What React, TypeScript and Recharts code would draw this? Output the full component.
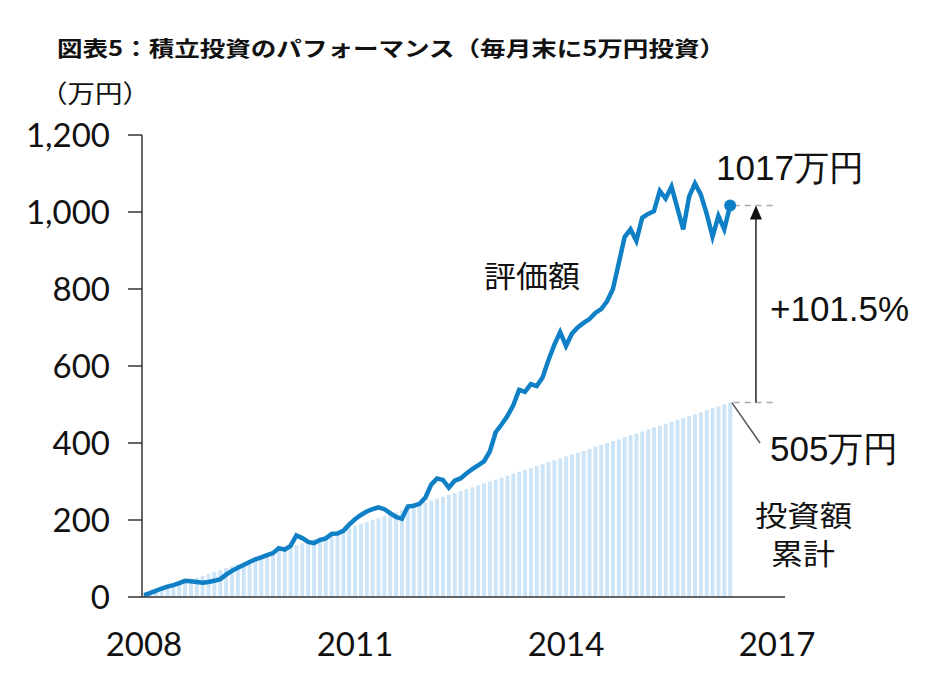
import { ComposedChart, Bar, Line, XAxis, YAxis, ReferenceLine, ReferenceDot } from 'recharts';

// 投資額累計（万円）: 毎月末に5万円ずつ
const invested = [
  5, 10, 15, 20, 25, 30, 35, 40, 45, 50,
  55, 60, 65, 70, 75, 80, 85, 90, 95, 100,
  105, 110, 115, 120, 125, 130, 135, 140, 145, 150,
  155, 160, 165, 170, 175, 180, 185, 190, 195, 200,
  205, 210, 215, 220, 225, 230, 235, 240, 245, 250,
  255, 260, 265, 270, 275, 280, 285, 290, 295, 300,
  305, 310, 315, 320, 325, 330, 335, 340, 345, 350,
  355, 360, 365, 370, 375, 380, 385, 390, 395, 400,
  405, 410, 415, 420, 425, 430, 435, 440, 445, 450,
  455, 460, 465, 470, 475, 480, 485, 490, 495, 500,
  505,
];

// 評価額（万円）
const valuation = [
  5, 10, 16, 22, 27, 31, 36, 42, 41, 39,
  37, 39, 42, 46, 58, 68, 76, 83, 91, 98,
  103, 109, 114, 127, 123, 133, 160, 153, 143, 140,
  148, 152, 164, 165, 172, 188, 202, 213, 222, 228,
  233, 228, 218, 208, 203, 235, 237, 242, 258, 292,
  308, 304, 284, 302, 308, 321, 332, 342, 352, 378,
  428, 448, 470, 498, 538, 533, 553, 548, 570, 615,
  655, 688, 652, 684, 700, 712, 722, 738, 748, 768,
  800, 867, 935, 955, 925, 985, 995, 1002, 1055, 1035,
  1066, 1010, 955, 1040, 1074, 1045, 995, 936, 990, 955,
  1017,
];

const yearTicks = [0, 36, 72, 108];
const yearLabels = ['2008', '2011', '2014', '2017'];
const valueTicks = [0, 200, 400, 600, 800, 1000, 1200];

const lastMonth = 100;
const finalValue = 1017;
const finalInvested = 505;
const gainLabel = '+101.5%';

const data = valuation.map((v, i) => ({ m: i, value: v, invested: invested[i] }));

const LINE_BLUE = '#0f80c6';
const BAR_BLUE = '#cde5f7';
const AXIS = '#333';
const JP = '"Noto Sans CJK JP", sans-serif';
const NUM = '"Liberation Sans", Arial, sans-serif';

// 上向き矢印（評価額と投資額の差）
const UpArrow = (props: any) => {
  const { x1, y1, x2, y2 } = props;
  const top = Math.min(y1, y2);
  const bottom = Math.max(y1, y2);
  return (
    <g>
      <line x1={x1} y1={bottom} x2={x2} y2={top + 12} stroke="#222" strokeWidth={1.5} />
      <polygon points={`${x2},${top} ${x2 - 6},${top + 14} ${x2 + 6},${top + 14}`} fill="#111" />
    </g>
  );
};

export default function App() {
  return (
    <div style={{ position: 'absolute', left: 0, top: 0, width: 935, height: 698, background: '#fff' }}>
      <ComposedChart
        width={935}
        height={698}
        data={data}
        margin={{ top: 135, right: 150, bottom: 41, left: 0 }}
      >
        <XAxis
          type="number"
          dataKey="m"
          domain={[-0.34, 109.36]}
          ticks={yearTicks}
          interval={0}
          tickFormatter={(v) => yearLabels[yearTicks.indexOf(v)]}
          tickLine={false}
          axisLine={{ stroke: AXIS, strokeWidth: 1.5 }}
          tick={{ fontSize: 33, fontFamily: 'Lato', fill: '#111' }}
          tickMargin={30}
          height={60}
        />
        <YAxis
          type="number"
          domain={[0, 1200]}
          ticks={valueTicks}
          interval={0}
          width={142}
          tickSize={14}
          tickMargin={18}
          tickLine={{ stroke: AXIS, strokeWidth: 1.5 }}
          axisLine={{ stroke: AXIS, strokeWidth: 1.5 }}
          tickFormatter={(v) => v.toLocaleString('en-US')}
          tick={{ fontSize: 33, fontFamily: 'Lato', fill: '#111' }}
        />
        <Bar dataKey="invested" fill={BAR_BLUE} barSize={4} isAnimationActive={false} />
        <Line
          type="linear"
          dataKey="value"
          stroke={LINE_BLUE}
          strokeWidth={4.5}
          dot={false}
          activeDot={false}
          isAnimationActive={false}
        />
        <ReferenceDot x={lastMonth} y={finalValue} r={6} fill={LINE_BLUE} stroke="none" />
        <ReferenceLine
          segment={[{ x: 100.6, y: finalValue }, { x: 107.3, y: finalValue }]}
          stroke="#aaa"
          strokeWidth={1.5}
          strokeDasharray="6 5"
        />
        <ReferenceLine
          segment={[{ x: 100.6, y: finalInvested }, { x: 107.3, y: finalInvested }]}
          stroke="#aaa"
          strokeWidth={1.5}
          strokeDasharray="6 5"
        />
        <ReferenceLine
          segment={[{ x: 104.4, y: finalInvested }, { x: 104.4, y: finalValue }]}
          shape={UpArrow}
        />
        <ReferenceLine
          segment={[{ x: 100.3, y: finalInvested }, { x: 105.1, y: 400 }]}
          stroke="#555"
          strokeWidth={1.5}
        />
      </ComposedChart>

      <svg
        width={935}
        height={698}
        style={{ position: 'absolute', left: 0, top: 0, pointerEvents: 'none' }}
      >
        <text x={57} y={56} fontFamily={JP} fontWeight="bold" fontSize={21} fill="#111"
          textLength={668} lengthAdjust="spacingAndGlyphs">
          図表5：積立投資のパフォーマンス（毎月末に5万円投資）
        </text>
        <text x={40} y={103} fontFamily={JP} fontSize={25} fill="#111"
          textLength={110} lengthAdjust="spacingAndGlyphs">
          （万円）
        </text>
        <text x={484} y={287} fontFamily={JP} fontSize={30} fill="#111"
          textLength={96} lengthAdjust="spacingAndGlyphs">
          評価額
        </text>
        <text x={716} y={180} fontFamily={NUM} fontSize={35} fill="#111">
          {finalValue}万円
        </text>
        <text x={770} y={321} fontFamily={NUM} fontSize={35} fill="#111">
          {gainLabel}
        </text>
        <text x={770} y={461} fontFamily={NUM} fontSize={35} fill="#111">
          {finalInvested}万円
        </text>
        <text x={755} y={527} fontFamily={JP} fontSize={29} fill="#111"
          textLength={97} lengthAdjust="spacingAndGlyphs">
          投資額
        </text>
        <text x={771} y={565} fontFamily={JP} fontSize={29} fill="#111"
          textLength={64} lengthAdjust="spacingAndGlyphs">
          累計
        </text>
      </svg>
    </div>
  );
}
